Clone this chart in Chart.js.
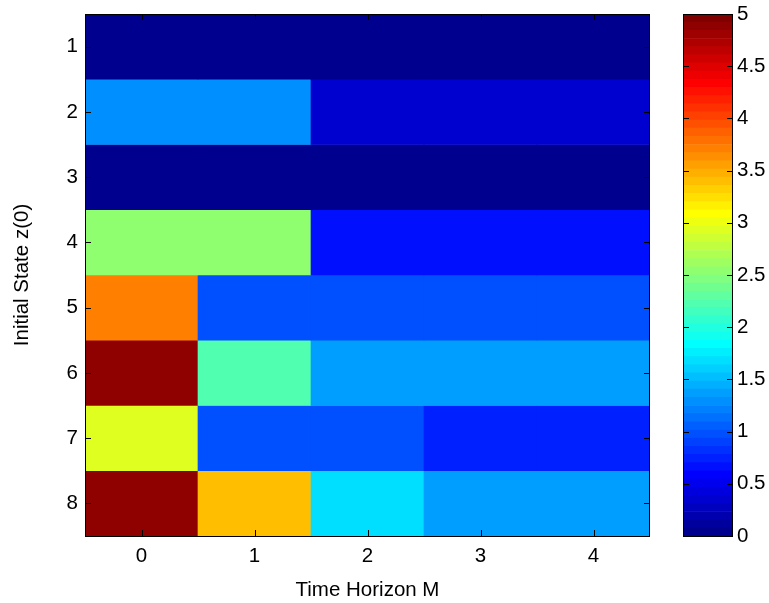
<!DOCTYPE html>
<html>
<head>
<meta charset="utf-8">
<script src="https://cdn.jsdelivr.net/npm/chart.js@4/dist/chart.umd.min.js"></script>
<style>
html,body{margin:0;padding:0;background:#fff;width:769px;height:603px;overflow:hidden;}
#main{position:absolute;left:0;top:0;}
#cbar{position:absolute;left:640px;top:0;}
</style>
</head>
<body>
<canvas id="main" width="769" height="603"></canvas>
<canvas id="cbar" width="129" height="603"></canvas>
<script>
// ---- data ----
const columns = ['0', '1', '2', '3', '4'];          // Time Horizon M
const rowStates = [1, 2, 3, 4, 5, 6, 7, 8];          // Initial State z(0)
const row1 = [0.00, 0.00, 0.00, 0.00, 0.00];
const row2 = [1.27, 1.27, 0.35, 0.35, 0.35];
const row3 = [0.00, 0.00, 0.00, 0.00, 0.00];
const row4 = [2.52, 2.52, 0.65, 0.65, 0.65];
const row5 = [3.72, 0.97, 0.97, 0.97, 0.97];
const row6 = [4.90, 2.22, 1.36, 1.36, 1.36];
const row7 = [2.93, 0.97, 0.97, 0.72, 0.72];
const row8 = [4.90, 3.40, 1.68, 1.36, 1.36];
const rows = [row1, row2, row3, row4, row5, row6, row7, row8];
const colorbarTicks = [0, 0.5, 1, 1.5, 2, 2.5, 3, 3.5, 4, 4.5, 5];
const cMin = 0, cMax = 5;

// ---- jet colormap (64 levels, MATLAB jet(64)) ----
const NLEV = 64;
function jetRGB(k) { // k in 0..63
  const i = k + 1;
  let r, g, b;
  if (i <= 24) r = 0; else if (i <= 40) r = (i - 24) / 16; else if (i <= 56) r = 1; else r = (72 - i) / 16;
  if (i <= 8) g = 0; else if (i <= 24) g = (i - 8) / 16; else if (i <= 40) g = 1; else if (i <= 56) g = (56 - i) / 16; else g = 0;
  if (i <= 8) b = (i + 8) / 16; else if (i <= 24) b = 1; else if (i <= 40) b = (40 - i) / 16; else b = 0;
  return 'rgb(' + Math.round(r * 255) + ',' + Math.round(g * 255) + ',' + Math.round(b * 255) + ')';
}
function valueColor(v) {
  let idx = Math.floor((v - cMin) / (cMax - cMin) * NLEV);
  idx = Math.max(0, Math.min(NLEV - 1, idx));
  return jetRGB(idx);
}

const FONT = 'Liberation Sans, Arial, Helvetica, sans-serif';
const TICK_SIZE = 20.5;

// inward ticks + frame plugin
const frameTicks = {
  id: 'frameTicks',
  afterDraw(chart, args, opts) {
    const ctx = chart.ctx, a = chart.chartArea;
    ctx.save();
    ctx.strokeStyle = '#000';
    ctx.lineWidth = 1;
    const L = opts.len || 6;
    ctx.beginPath();
    if (opts.x) {
      const xs = chart.scales.x;
      xs.ticks.forEach((t, i) => {
        const px = Math.round(xs.getPixelForTick(i)) + 0.5;
        ctx.moveTo(px, a.bottom); ctx.lineTo(px, a.bottom - L);
        ctx.moveTo(px, a.top); ctx.lineTo(px, a.top + L);
      });
    }
    const ys = chart.scales.y;
    ys.ticks.forEach((t) => {
      const py = Math.round(ys.getPixelForValue(t.value)) + 0.5;
      ctx.moveTo(a.left, py); ctx.lineTo(a.left + L, py);
      ctx.moveTo(a.right, py); ctx.lineTo(a.right - L, py);
    });
    ctx.stroke();
    ctx.strokeRect(Math.round(a.left) + 0.5, Math.round(a.top) + 0.5,
                   Math.round(a.right - a.left) - 1, Math.round(a.bottom - a.top));
    ctx.restore();
  }
};

// ---- main heatmap ----
const datasets = rows.map((vals, r) => ({
  label: 'z(0)=' + rowStates[r],
  data: vals.map(() => [rowStates[r] - 0.5, rowStates[r] + 0.5]),
  backgroundColor: vals.map(valueColor),
  borderWidth: 0,
  barPercentage: 1,
  categoryPercentage: 1,
  grouped: false
}));

new Chart(document.getElementById('main'), {
  type: 'bar',
  data: { labels: columns, datasets },
  options: {
    responsive: false,
    animation: false,
    events: [],
    layout: { padding: { left: 0, right: 119, top: 14, bottom: 0 } },
    plugins: { legend: { display: false }, tooltip: { enabled: false }, frameTicks: { x: true, len: 6 } },
    scales: {
      x: {
        type: 'category',
        offset: true,
        grid: { display: false, drawTicks: false },
        border: { display: false },
        ticks: { color: '#000', font: { family: FONT, size: TICK_SIZE }, padding: 8, maxRotation: 0 },
        title: { display: true, text: 'Time Horizon M', color: '#000', font: { family: FONT, size: TICK_SIZE }, padding: { top: 12, bottom: 0 } },
        afterFit(s) { s.height = 603 - 536; s.paddingLeft = 0; s.paddingRight = 0; }
      },
      y: {
        type: 'linear',
        reverse: true,
        min: 0.5, max: 8.5,
        grid: { display: false, drawTicks: false },
        border: { display: false },
        afterBuildTicks(s) { s.ticks = rowStates.map(v => ({ value: v })); },
        ticks: { color: '#000', font: { family: FONT, size: TICK_SIZE }, padding: 7 },
        title: { display: true, text: 'Initial State z(0)', color: '#000', font: { family: FONT, size: TICK_SIZE }, padding: { top: 10, bottom: 0 } },
        afterFit(s) { s.width = 85; s.paddingTop = 0; s.paddingBottom = 0; }
      }
    }
  },
  plugins: [frameTicks]
});

// ---- colorbar ----
const levelIndex = Array.from({ length: NLEV }, (_, k) => k);
const cbDatasets = levelIndex.map(k => ({
  data: [[cMin + k * (cMax - cMin) / NLEV, cMin + (k + 1) * (cMax - cMin) / NLEV]],
  backgroundColor: jetRGB(k),
  borderWidth: 0,
  barPercentage: 1,
  categoryPercentage: 1,
  grouped: false
}));

new Chart(document.getElementById('cbar'), {
  type: 'bar',
  data: { labels: [''], datasets: cbDatasets },
  options: {
    responsive: false,
    animation: false,
    events: [],
    layout: { padding: { left: 43, right: 0, top: 14, bottom: 0 } },
    plugins: { legend: { display: false }, tooltip: { enabled: false }, frameTicks: { x: false, len: 6 } },
    scales: {
      x: {
        type: 'category',
        display: true,
        grid: { display: false, drawTicks: false },
        border: { display: false },
        ticks: { display: false },
        afterFit(s) { s.height = 603 - 536; s.paddingLeft = 0; s.paddingRight = 0; }
      },
      y: {
        type: 'linear',
        position: 'right',
        min: cMin, max: cMax,
        grid: { display: false, drawTicks: false },
        border: { display: false },
        afterBuildTicks(s) { s.ticks = colorbarTicks.map(v => ({ value: v })); },
        ticks: { color: '#000', font: { family: FONT, size: TICK_SIZE }, padding: 4, callback: v => String(v) },
        afterFit(s) { s.width = 129 - 43 - 50; s.paddingTop = 0; s.paddingBottom = 0; }
      }
    }
  },
  plugins: [frameTicks]
});
</script>
</body>
</html>
